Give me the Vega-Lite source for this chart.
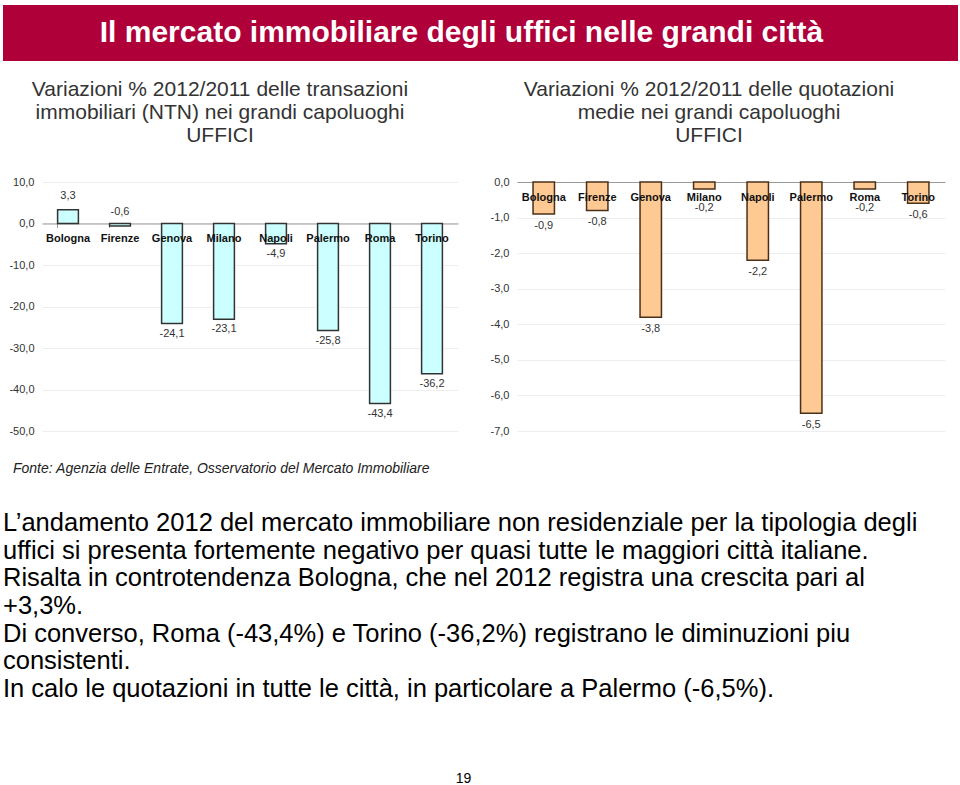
{
  "$schema": "https://vega.github.io/schema/vega-lite/v6.json",
  "padding": {"top": 5, "left": 3, "right": 0, "bottom": 0},
  "background": "white",
  "columns": 1,
  "align": "none",
  "spacing": 18,
  "config": {
    "locale": {"number": {"decimal": ",", "thousands": ".", "grouping": [3], "currency": ["€", ""], "minus": "-"}},
    "font": "Liberation Sans",
    "view": {"stroke": null},
    "axis": {"labelFont": "Liberation Sans"},
    "title": {"font": "Liberation Sans"}
  },
  "datasets": {
    "trans": [
      {"city": "Bologna", "v": 3.3},
      {"city": "Firenze", "v": -0.6},
      {"city": "Genova", "v": -24.1},
      {"city": "Milano", "v": -23.1},
      {"city": "Napoli", "v": -4.9},
      {"city": "Palermo", "v": -25.8},
      {"city": "Roma", "v": -43.4},
      {"city": "Torino", "v": -36.2}
    ],
    "quot": [
      {"city": "Bologna", "v": -0.9},
      {"city": "Firenze", "v": -0.8},
      {"city": "Genova", "v": -3.8},
      {"city": "Milano", "v": -0.2},
      {"city": "Napoli", "v": -2.2},
      {"city": "Palermo", "v": -6.5},
      {"city": "Roma", "v": -0.2},
      {"city": "Torino", "v": -0.6}
    ],
    "banner": [{"t": "Il mercato immobiliare degli uffici nelle grandi città"}],
    "source": [{"t": "Fonte: Agenzia delle Entrate, Osservatorio del Mercato Immobiliare"}],
    "body": [
      {"line": 1, "t": "L’andamento 2012 del mercato immobiliare non residenziale per la tipologia degli"},
      {"line": 2, "t": "uffici si presenta fortemente negativo per quasi tutte le maggiori città italiane."},
      {"line": 3, "t": "Risalta in controtendenza Bologna, che nel 2012 registra una crescita pari al"},
      {"line": 4, "t": "+3,3%."},
      {"line": 5, "t": "Di converso, Roma (-43,4%) e Torino (-36,2%) registrano le diminuzioni piu"},
      {"line": 6, "t": "consistenti."},
      {"line": 7, "t": "In calo le quotazioni in tutte le città, in particolare a Palermo (-6,5%)."}
    ],
    "page": [{"t": "19"}]
  },
  "concat": [
    {
      "width": 955,
      "height": 56,
      "view": {"fill": "#b0003a", "stroke": null},
      "data": {"name": "banner"},
      "mark": {"type": "text", "font": "Liberation Sans", "fontSize": 30, "fontWeight": "bold", "color": "white", "dx": -19, "baseline": "middle"},
      "encoding": {"text": {"field": "t"}}
    },
    {
      "spacing": 0,
      "hconcat": [
        {
          "width": 1,
          "height": 1,
          "data": {"values": []},
          "mark": "point",
          "encoding": {}
        },
        {
          "spacing": 32,
          "hconcat": [
            {
              "width": 416,
              "height": 249,
              "title": {
                "text": ["Variazioni % 2012/2011 delle transazioni", "immobiliari (NTN)  nei grandi capoluoghi", "UFFICI"],
                "fontSize": 21, "fontWeight": "normal", "lineHeight": 23, "color": "#333333",
                "anchor": "middle", "frame": "group", "dx": -30, "offset": 30
              },
              "data": {"name": "trans"},
              "encoding": {
                "x": {
                  "field": "city", "type": "nominal", "sort": null,
                  "scale": {"paddingInner": 0.6, "paddingOuter": 0.3},
                  "axis": {"orient": "bottom", "offset": -207.5, "labels": false, "title": null, "bandPosition": 0, "tickSize": 4, "tickColor": "#999999", "domainColor": "#999999"}
                },
                "y": {
                  "field": "v", "type": "quantitative",
                  "scale": {"domain": [-50, 10], "nice": false},
                  "axis": {"title": null, "values": [10, 0, -10, -20, -30, -40, -50], "format": ".1f", "domain": false, "ticks": false, "gridColor": "#eeeeee", "labelFontSize": 11, "labelColor": "#333333", "labelPadding": 8, "minExtent": 38}
                }
              },
              "layer": [
                {"mark": {"type": "bar", "fill": "#ccffff", "stroke": "#333333", "strokeWidth": 1.5}},
                {
                  "mark": {"type": "text", "fontSize": 11, "fontWeight": "bold", "color": "#111111", "dy": 15, "baseline": "middle"},
                  "encoding": {"y": {"datum": 0}, "text": {"field": "city"}}
                },
                {
                  "transform": [{"filter": "datum.v > -1"}],
                  "mark": {"type": "text", "fontSize": 11, "color": "#333333", "dy": -14, "baseline": "middle"},
                  "encoding": {"text": {"field": "v", "type": "quantitative", "format": ".1f"}}
                },
                {
                  "transform": [{"filter": "datum.v <= -1"}],
                  "mark": {"type": "text", "fontSize": 11, "color": "#333333", "dy": 10, "baseline": "middle"},
                  "encoding": {"text": {"field": "v", "type": "quantitative", "format": ".1f"}}
                }
              ]
            },
            {
              "width": 428,
              "height": 249,
              "title": {
                "text": ["Variazioni % 2012/2011 delle quotazioni", "medie nei grandi capoluoghi", "UFFICI"],
                "fontSize": 21, "fontWeight": "normal", "lineHeight": 23, "color": "#333333",
                "anchor": "middle", "frame": "group", "dx": -22, "offset": 30
              },
              "data": {"name": "quot"},
              "encoding": {
                "x": {
                  "field": "city", "type": "nominal", "sort": null,
                  "scale": {"paddingInner": 0.6, "paddingOuter": 0.3},
                  "axis": {"orient": "bottom", "offset": -249, "labels": false, "title": null, "bandPosition": 0, "tickSize": 4, "tickColor": "#999999", "domainColor": "#999999"}
                },
                "y": {
                  "field": "v", "type": "quantitative",
                  "scale": {"domain": [-7, 0], "nice": false},
                  "axis": {"title": null, "values": [0, -1, -2, -3, -4, -5, -6, -7], "format": ".1f", "domain": false, "ticks": false, "gridColor": "#eeeeee", "labelFontSize": 11, "labelColor": "#333333", "labelPadding": 8, "minExtent": 26}
                }
              },
              "layer": [
                {"mark": {"type": "bar", "fill": "#ffc993", "stroke": "#4a3018", "strokeWidth": 1.5}},
                {
                  "mark": {"type": "text", "fontSize": 11, "fontWeight": "bold", "color": "#111111", "dy": 16, "baseline": "middle"},
                  "encoding": {"y": {"datum": 0}, "text": {"field": "city"}}
                },
                {
                  "transform": [{"filter": "datum.v > -0.3"}],
                  "mark": {"type": "text", "fontSize": 11, "color": "#333333", "dy": 19, "baseline": "middle"},
                  "encoding": {"text": {"field": "v", "type": "quantitative", "format": ".1f"}}
                },
                {
                  "transform": [{"filter": "datum.v <= -0.3"}],
                  "mark": {"type": "text", "fontSize": 11, "color": "#333333", "dy": 12, "baseline": "middle"},
                  "encoding": {"text": {"field": "v", "type": "quantitative", "format": ".1f"}}
                }
              ]
            }
          ]
        }
      ]
    },
    {
      "width": 955,
      "height": 30,
      "data": {"name": "source"},
      "mark": {"type": "text", "fontSize": 14, "fontStyle": "italic", "color": "#222222", "align": "left", "baseline": "middle", "dx": 10},
      "encoding": {
        "x": {"datum": 0, "type": "quantitative", "scale": {"domain": [0, 1]}, "axis": null},
        "text": {"field": "t"}
      }
    },
    {
      "width": 955,
      "height": 208,
      "data": {"name": "body"},
      "mark": {"type": "text", "fontSize": 25.5, "color": "#000000", "align": "left", "baseline": "middle"},
      "encoding": {
        "x": {"datum": 0, "type": "quantitative", "scale": {"domain": [0, 1]}, "axis": null},
        "y": {"field": "line", "type": "ordinal", "scale": {"type": "point", "padding": 0.76}, "axis": null},
        "text": {"field": "t"}
      }
    },
    {
      "width": 955,
      "height": 102,
      "data": {"name": "page"},
      "mark": {"type": "text", "fontSize": 14, "color": "#000000", "baseline": "middle", "dx": -17},
      "encoding": {"text": {"field": "t"}}
    }
  ]
}
